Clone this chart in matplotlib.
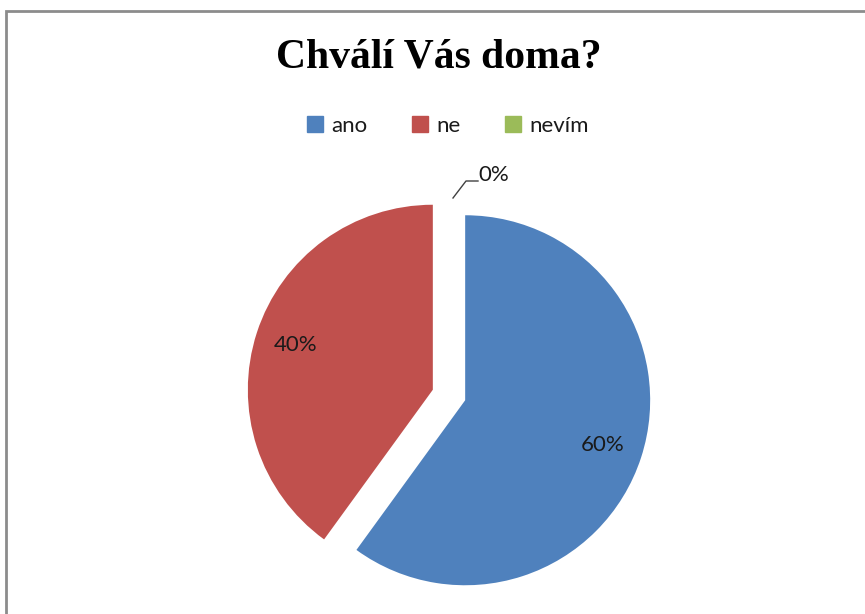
import matplotlib.pyplot as plt
from matplotlib.patches import Rectangle

# data
labels = ["ano", "ne", "nevím"]
values = [60, 40, 0]
colors = ["#4F81BD", "#C0504D", "#9BBB59"]
title = "Chválí Vás doma?"

W, H = 865, 614
fig = plt.figure(figsize=(W / 100, H / 100), dpi=100)
ax = fig.add_axes([0, 0, 1, 1])
ax.set_xlim(0, W)
ax.set_ylim(0, H)
ax.set_aspect("equal")
ax.axis("off")

# rámeček grafu (jen levá a horní hrana jsou vidět)
ax.add_patch(Rectangle((6, -10), W + 10, H - 11 + 10, fill=False,
                       edgecolor="#8c8c8c", linewidth=2))

# explode je v matplotlibu v jednotkách dat (zde pixely)
cx, cy, r = 449, H - 395, 185
wedges, texts, autotexts = ax.pie(
    values, colors=colors, startangle=90, counterclock=False,
    center=(cx, cy), radius=r, explode=[17, 17, 0],
    autopct="%d%%", pctdistance=0.78,
    wedgeprops=dict(linewidth=0),
    textprops=dict(fontfamily="Lato", fontsize=16, color="#1a1a1a"))
ax.set_xlim(0, W)
ax.set_ylim(0, H)

# popisek 0% s vodící čárou
t0 = autotexts[2]
t0.set_position((478, H - 175))
t0.set_ha("left")
ax.plot([453, 466, 478], [H - 198, H - 181, H - 181], color="#404040", lw=1)

ax.text(439, H - 58, title, ha="center", va="center",
        fontfamily="Liberation Serif", fontweight="bold", fontsize=30)

handles = [Rectangle((0, 0), 1, 1, color=c) for c in colors]
leg = ax.legend(handles, labels, loc="center", bbox_to_anchor=(448 / W, 1 - 126 / H),
                ncol=3, frameon=False, handlelength=0.7, handleheight=0.7,
                handletextpad=0.4, columnspacing=2.0,
                prop=dict(family="Lato", size=16))
for t in leg.get_texts():
    t.set_color("#1a1a1a")

fig.savefig("out.png", dpi=100)
